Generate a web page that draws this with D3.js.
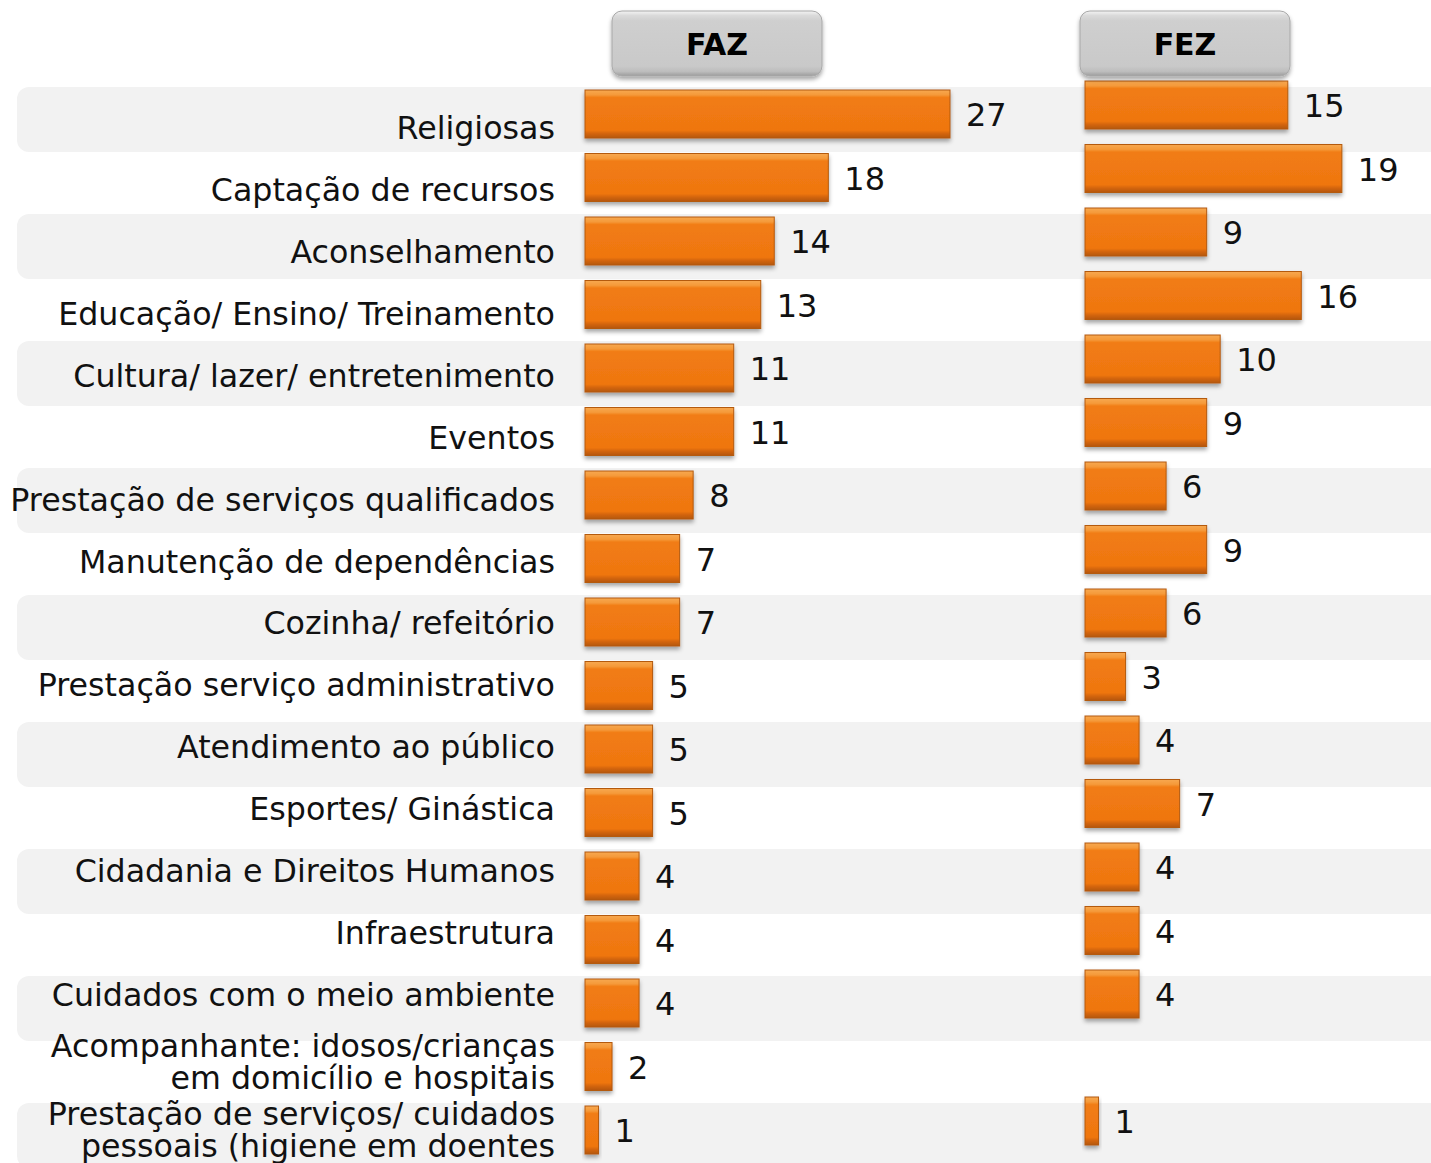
<!DOCTYPE html>
<html>
<head>
<meta charset="utf-8">
<script src="https://cdn.jsdelivr.net/npm/d3@7/dist/d3.min.js"></script>
<style>
  html, body { margin: 0; padding: 0; background: #fff; }
  svg { display: block; }
</style>
</head>
<body>
<svg id="chart" width="1431" height="1163"></svg>
<script>
// ---- DATA ----
const categories = [
  "Religiosas",
  "Captação de recursos",
  "Aconselhamento",
  "Educação/ Ensino/ Treinamento",
  "Cultura/ lazer/ entretenimento",
  "Eventos",
  "Prestação de serviços qualificados",
  "Manutenção de dependências",
  "Cozinha/ refeitório",
  "Prestação serviço administrativo",
  "Atendimento ao público",
  "Esportes/ Ginástica",
  "Cidadania e Direitos Humanos",
  "Infraestrutura",
  "Cuidados com o meio ambiente",
  "Acompanhante: idosos/crianças|em domicílio e hospitais",
  "Prestação de serviços/ cuidados|pessoais (higiene em doentes"
];
const fazValues = [27, 18, 14, 13, 11, 11, 8, 7, 7, 5, 5, 5, 4, 4, 4, 2, 1];
const fezValues = [15, 19, 9, 16, 10, 9, 6, 9, 6, 3, 4, 7, 4, 4, 4, null, 1];
const panelTitles = ["FAZ", "FEZ"];

// ---- LAYOUT ----
const svg = d3.select("#chart");
const W = 1431, H = 1163;
const FONT = "DejaVu Sans, Verdana, sans-serif";

const rowScale = d3.scaleBand()
  .domain(d3.range(categories.length))
  .range([87, 87 + 63.5 * categories.length])
  .paddingInner(0).paddingOuter(0);
const step = rowScale.step();

const x = d3.scaleLinear().domain([0, 27]).range([0, 365]);
const panelOrigins = [585, 1085];
const panelBarOffset = [3, -6];   // vertical offset of bars within a row
const barH = 48;

// label vertical centers (single-line labels are on their own pitch)
const labelCenter = d3.scaleLinear().domain([0, 14]).range([127, 994]);
const multiLineShift = { 15: -6, 16: -1 };

// ---- DEFS ----
const defs = svg.append("defs");
const barGrad = defs.append("linearGradient").attr("id", "barGrad")
  .attr("x1", 0).attr("y1", 0).attr("x2", 0).attr("y2", 1);
[[0, "#f7a850"], [0.1, "#f59a3a"], [0.16, "#f17c14"], [0.84, "#ef7610"], [0.9, "#d6660c"], [1, "#b4560c"]]
  .forEach(([o, c]) => barGrad.append("stop").attr("offset", o).attr("stop-color", c));

const hdrGrad = defs.append("linearGradient").attr("id", "hdrGrad")
  .attr("x1", 0).attr("y1", 0).attr("x2", 0).attr("y2", 1);
[[0, "#f4f4f4"], [0.07, "#dadada"], [0.15, "#cfcfcf"], [0.85, "#c9c9c9"], [0.93, "#bdbdbd"], [1, "#9c9c9c"]]
  .forEach(([o, c]) => hdrGrad.append("stop").attr("offset", o).attr("stop-color", c));

const shadow = defs.append("filter").attr("id", "shadow")
  .attr("x", "-20%").attr("y", "-20%").attr("width", "140%").attr("height", "160%");
shadow.append("feDropShadow").attr("dx", 0).attr("dy", 3).attr("stdDeviation", 2)
  .attr("flood-color", "#000").attr("flood-opacity", 0.35);

// ---- BANDS ----
svg.append("g").selectAll("rect")
  .data(d3.range(categories.length).filter(i => i % 2 === 0))
  .join("rect")
  .attr("x", 17)
  .attr("y", i => rowScale(i))
  .attr("width", W + 20)
  .attr("height", step + 1.5)
  .attr("rx", 12)
  .attr("fill", "#f2f2f2");

// ---- CATEGORY LABELS ----
const lblG = svg.append("g")
  .attr("font-family", FONT).attr("font-size", 31.7).attr("fill", "#111")
  .attr("text-anchor", "end");
categories.forEach((c, i) => {
  const lines = c.split("|");
  let cy;
  if (lines.length === 1) cy = labelCenter(i);
  else cy = rowScale(i) + panelBarOffset[0] + barH / 2 + (multiLineShift[i] || 0);
  const lh = 32;
  lines.forEach((ln, k) => {
    lblG.append("text")
      .attr("x", 555)
      .attr("y", cy + 12 + (k - (lines.length - 1) / 2) * lh)
      .text(ln);
  });
});

// ---- PANELS ----
const series = [fazValues, fezValues];
series.forEach((vals, p) => {
  const ox = panelOrigins[p];
  const g = svg.append("g");
  const data = vals.map((v, i) => ({ v, i })).filter(d => d.v != null);

  g.selectAll("rect.bar").data(data).join("rect")
    .attr("class", "bar")
    .attr("x", ox)
    .attr("y", d => rowScale(d.i) + panelBarOffset[p])
    .attr("width", d => x(d.v))
    .attr("height", barH)
    .attr("fill", "url(#barGrad)")
    .attr("stroke", "#b45a10").attr("stroke-width", 1)
    .attr("filter", "url(#shadow)");

  g.selectAll("text.val").data(data).join("text")
    .attr("class", "val")
    .attr("x", d => ox + x(d.v) + 16)
    .attr("y", d => rowScale(d.i) + panelBarOffset[p] + barH / 2 + 12)
    .attr("font-family", FONT).attr("font-size", 32).attr("fill", "#111")
    .text(d => d.v);
});

// ---- HEADERS ----
const hdrX = [612, 1080];
panelTitles.forEach((t, p) => {
  const g = svg.append("g");
  g.append("rect")
    .attr("x", hdrX[p]).attr("y", 11).attr("width", 210).attr("height", 65)
    .attr("rx", 10)
    .attr("fill", "url(#hdrGrad)")
    .attr("stroke", "#a8a8a8").attr("stroke-width", 1)
    .attr("filter", "url(#shadow)");
  g.append("text")
    .attr("x", hdrX[p] + 105).attr("y", 55)
    .attr("text-anchor", "middle")
    .attr("font-family", FONT).attr("font-weight", "bold").attr("font-size", 30)
    .attr("fill", "#000")
    .text(t);
});
</script>
</body>
</html>
